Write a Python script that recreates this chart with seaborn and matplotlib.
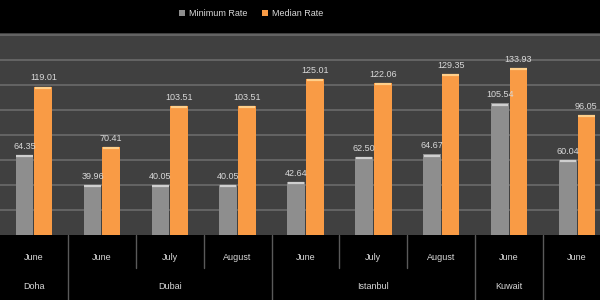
import matplotlib
matplotlib.use("Agg")
import matplotlib.pyplot as plt
import matplotlib.transforms as mtransforms
import seaborn as sns
import pandas as pd

cities = ["Doha", "Dubai", "Dubai", "Dubai", "Istanbul", "Istanbul", "Istanbul", "Kuwait", ""]
months = ["June", "June", "July", "August", "June", "July", "August", "June", "June"]
min_rate = [64.35, 39.96, 40.05, 40.05, 42.64, 62.50, 64.67, 105.54, 60.04]
median_rate = [119.01, 70.41, 103.51, 103.51, 125.01, 122.06, 129.35, 133.93, 96.05]
series = ["Minimum Rate", "Median Rate"]

keys = [f"{c}|{m}|{i}" for i, (c, m) in enumerate(zip(cities, months))]
df = pd.DataFrame({
    "key": keys * 2,
    "series": [series[0]] * len(keys) + [series[1]] * len(keys),
    "value": min_rate + median_rate,
})

sns.set_theme(style="dark")
plt.rcParams["font.family"] = ["Liberation Sans", "DejaVu Sans"]

BG = "#000000"
PLOT_BG = "#404040"
GRID = "#6b6b6b"
TXT = "#d9d9d9"
colors = {"Minimum Rate": "#8e8e8e", "Median Rate": "#f99b45"}
tops = {"Minimum Rate": "#cfcfcf", "Median Rate": "#ffcf8a"}

fig = plt.figure(figsize=(6, 3), dpi=100, facecolor=BG)
ax = fig.add_axes([0.0, (300 - 235) / 300, 611 / 600, (235 - 33) / 300])
ax.set_facecolor(PLOT_BG)

sns.barplot(data=df, x="key", y="value", hue="series", order=keys,
            hue_order=series, palette=colors, width=0.55, gap=0.05,
            saturation=1, ax=ax, legend=True, edgecolor="none")

ax.set_ylim(0, 162)
ax.set_xlim(-0.5, len(keys) - 0.5)
ax.set_yticks(range(20, 161, 20))
ax.yaxis.grid(True, color=GRID, linewidth=1.2)
ax.xaxis.grid(False)
ax.set_axisbelow(True)
ax.tick_params(axis="both", length=0, labelleft=False, labelbottom=False)
ax.set_xlabel("")
ax.set_ylabel("")
for s in ax.spines.values():
    s.set_visible(False)

# data labels and bar top highlights
for cont, name in zip(ax.containers, series):
    for bar in cont:
        x0 = bar.get_x()
        w = bar.get_width()
        h = bar.get_height()
        ax.plot([x0 + 0.01, x0 + w - 0.01], [h - 1.0, h - 1.0], color=tops[name],
                linewidth=1.6, solid_capstyle="butt", zorder=3)
        ax.annotate(f"{h:.2f}", (x0 + w / 2, h), xytext=(0, 3),
                    textcoords="offset points", ha="center", va="bottom",
                    color=TXT, fontsize=6.5)

# category axis
trans = mtransforms.blended_transform_factory(ax.transData, ax.transAxes)
for i, m in enumerate(months):
    ax.text(i, -0.109, m, transform=trans, ha="center", va="center",
            color=TXT, fontsize=6.5, clip_on=False)

# city labels centered on their runs
runs = []
start = 0
for i in range(1, len(cities) + 1):
    if i == len(cities) or cities[i] != cities[start]:
        runs.append((cities[start], start, i - 1))
        start = i
for c, a, b in runs:
    if c:
        ax.text((a + b) / 2, -0.257, c, transform=trans, ha="center",
                va="center", color=TXT, fontsize=6.5, clip_on=False)

city_bounds = [b + 0.5 for _, _, b in runs[:-1]]
for i in range(len(keys) - 1):
    xb = i + 0.5
    y1 = -0.4 if xb in city_bounds else -0.163
    ax.plot([xb, xb], [0, y1], transform=trans, color="#5a5a5a",
            linewidth=1.0, clip_on=False)

# legend
handles, labels = ax.get_legend_handles_labels()
ax.get_legend().remove()
leg = fig.legend(handles, labels, loc="center", bbox_to_anchor=(0.418, 0.955),
                 ncol=2, frameon=False, fontsize=6.5, labelcolor=TXT,
                 handlelength=0.7, handleheight=0.7, handletextpad=0.4,
                 columnspacing=1.6)

fig.savefig("out.png", dpi=100, facecolor=BG)
